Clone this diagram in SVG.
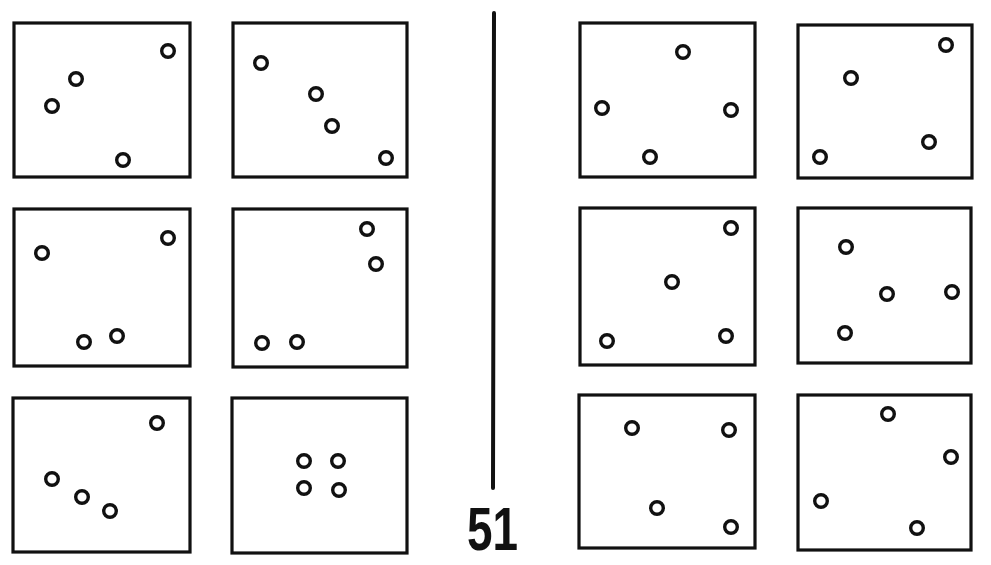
<svg xmlns="http://www.w3.org/2000/svg" width="991" height="565" viewBox="0 0 991 565">
<style>
.box{fill:none;stroke:#111;stroke-width:3.2}
.dot{fill:none;stroke:#111;stroke-width:3.4}
.div{stroke:#111;stroke-width:4;stroke-linecap:round}
.num{font-family:"Liberation Sans",Arial,sans-serif;font-weight:bold;font-size:62px;fill:#111}
</style>
<rect width="991" height="565" fill="#fff"/>
<g id="A1"><rect class="box" x="14" y="23" width="176" height="154"/>
<circle class="dot" cx="168" cy="51" r="6.3"/><circle class="dot" cx="76" cy="79" r="6.3"/><circle class="dot" cx="52" cy="106" r="6.3"/><circle class="dot" cx="123" cy="160" r="6.3"/></g>
<g id="A2"><rect class="box" x="233" y="23" width="174" height="154"/>
<circle class="dot" cx="261" cy="63" r="6.3"/><circle class="dot" cx="316" cy="94" r="6.3"/><circle class="dot" cx="332" cy="126" r="6.3"/><circle class="dot" cx="386" cy="158" r="6.3"/></g>
<g id="B1"><rect class="box" x="14" y="209" width="176" height="157"/>
<circle class="dot" cx="42" cy="253" r="6.3"/><circle class="dot" cx="168" cy="238" r="6.3"/><circle class="dot" cx="84" cy="342" r="6.3"/><circle class="dot" cx="117" cy="336" r="6.3"/></g>
<g id="B2"><rect class="box" x="233" y="209" width="174" height="158"/>
<circle class="dot" cx="367" cy="229" r="6.3"/><circle class="dot" cx="376" cy="264" r="6.3"/><circle class="dot" cx="262" cy="343" r="6.3"/><circle class="dot" cx="297" cy="342" r="6.3"/></g>
<g id="C1"><rect class="box" x="13" y="398" width="177" height="154"/>
<circle class="dot" cx="157" cy="423" r="6.3"/><circle class="dot" cx="52" cy="479" r="6.3"/><circle class="dot" cx="82" cy="497" r="6.3"/><circle class="dot" cx="110" cy="511" r="6.3"/></g>
<g id="C2"><rect class="box" x="232" y="398" width="175" height="155"/>
<circle class="dot" cx="304" cy="461" r="6.3"/><circle class="dot" cx="338" cy="461" r="6.3"/><circle class="dot" cx="304" cy="488" r="6.3"/><circle class="dot" cx="339" cy="490" r="6.3"/></g>
<g id="D1"><rect class="box" x="580" y="23" width="175" height="154"/>
<circle class="dot" cx="683" cy="52" r="6.3"/><circle class="dot" cx="602" cy="108" r="6.3"/><circle class="dot" cx="731" cy="110" r="6.3"/><circle class="dot" cx="650" cy="157" r="6.3"/></g>
<g id="D2"><rect class="box" x="798" y="25" width="174" height="153"/>
<circle class="dot" cx="946" cy="45" r="6.3"/><circle class="dot" cx="851" cy="78" r="6.3"/><circle class="dot" cx="929" cy="142" r="6.3"/><circle class="dot" cx="820" cy="157" r="6.3"/></g>
<g id="E1"><rect class="box" x="580" y="208" width="175" height="157"/>
<circle class="dot" cx="731" cy="228" r="6.3"/><circle class="dot" cx="672" cy="282" r="6.3"/><circle class="dot" cx="607" cy="341" r="6.3"/><circle class="dot" cx="726" cy="336" r="6.3"/></g>
<g id="E2"><rect class="box" x="798" y="208" width="173" height="155"/>
<circle class="dot" cx="846" cy="247" r="6.3"/><circle class="dot" cx="887" cy="294" r="6.3"/><circle class="dot" cx="952" cy="292" r="6.3"/><circle class="dot" cx="845" cy="333" r="6.3"/></g>
<g id="F1"><rect class="box" x="579" y="395" width="176" height="153"/>
<circle class="dot" cx="632" cy="428" r="6.3"/><circle class="dot" cx="729" cy="430" r="6.3"/><circle class="dot" cx="657" cy="508" r="6.3"/><circle class="dot" cx="731" cy="527" r="6.3"/></g>
<g id="F2"><rect class="box" x="798" y="395" width="173" height="155"/>
<circle class="dot" cx="888" cy="414" r="6.3"/><circle class="dot" cx="951" cy="457" r="6.3"/><circle class="dot" cx="821" cy="501" r="6.3"/><circle class="dot" cx="917" cy="528" r="6.3"/></g>
<g id="connectors"><line class="div" x1="494" y1="13" x2="493" y2="488"/></g>
<text class="num" x="467" y="550" textLength="51" lengthAdjust="spacingAndGlyphs">51</text>
</svg>
